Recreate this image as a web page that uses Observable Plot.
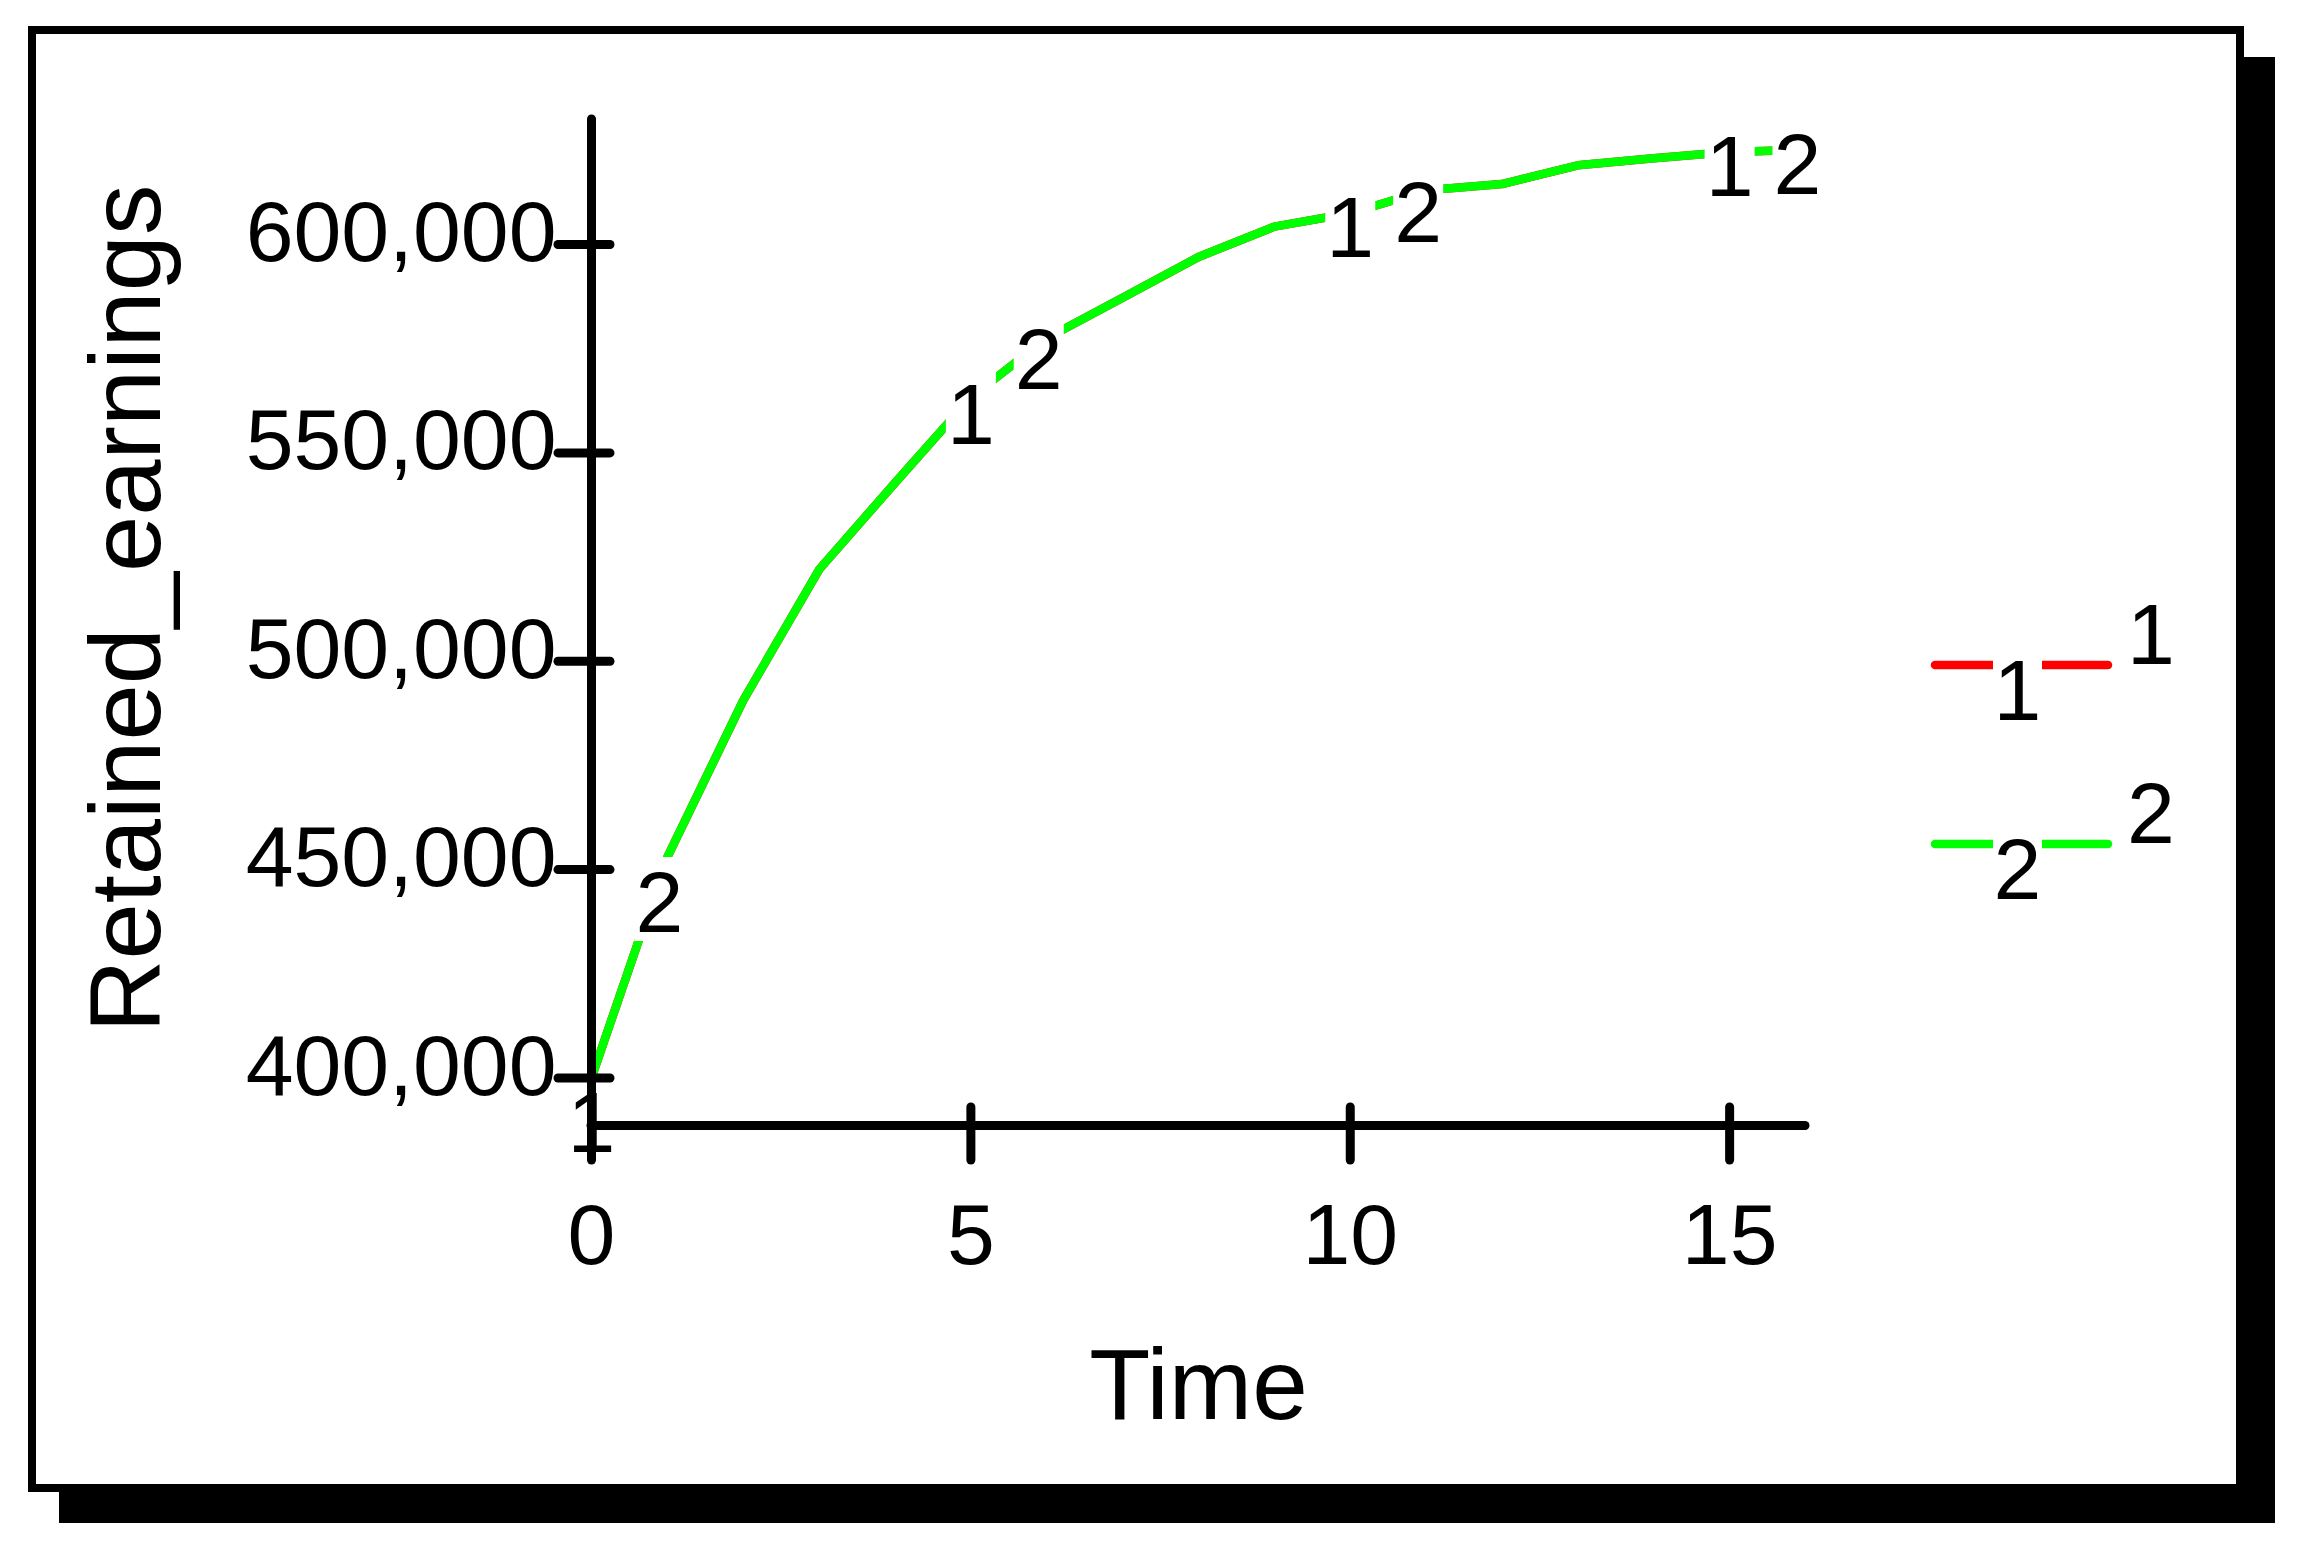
<!DOCTYPE html>
<html><head><meta charset="utf-8">
<script src="https://cdn.jsdelivr.net/npm/d3@7"></script>
<script src="https://cdn.jsdelivr.net/npm/@observablehq/plot@0.6"></script>
<style>
html,body{margin:0;padding:0;background:#fff;width:2304px;height:1548px;overflow:hidden}
#frame{position:absolute;left:28px;top:26px;width:2216px;height:1466px;box-sizing:border-box;border:8.5px solid #000;background:#fff;box-shadow:31px 31px 0 0 #000}
#chart{position:absolute;left:0;top:0}
</style></head><body>
<div id="frame"></div>
<div id="chart"></div>
<script>
// ---- data ----
const time = [0, 1, 2, 3, 4, 5, 6, 7, 8, 9, 10, 11, 12, 13, 14, 15, 16];
const retained1 = [400000, 453000, 490600, 522000, 542800, 563300, 577500, 587200, 597000, 604300, 607500, 613000, 614500, 619000, 620700, 622200, 622700];
const retained2 = [400000, 453000, 490600, 522000, 542800, 563300, 577500, 587200, 597000, 604300, 607500, 613000, 614500, 619000, 620700, 622200, 622700];
const seriesNames = ["1", "2"];
const seriesColors = ["#ff0000", "#00ff00"];
const labelTimes = [[0, 5, 10, 15], [1, 6, 11, 16]];
const xTicks = [0, 5, 10, 15];
const yTicks = [400000, 450000, 500000, 550000, 600000];
const xDomain = [0, 16];
const yDomain = [388600, 630000];
const xTitle = "Time";
const yTitle = "Retained_earnings";

// ---- styles ----
const FONT = "'Liberation Sans', Arial, Helvetica, sans-serif";
const labelDy = [[46, 19, 16, 16], [47, 23, 24, 17]];
const labelDx = [0, -8];
const LW = 8.5, AW = 9;

const seriesValues = [retained1, retained2];
const rows = seriesValues.map((vals, s) => time.map((t, i) => ({t, v: vals[i], s: seriesNames[s]})));
const labels = [];
seriesValues.forEach((vals, s) => labelTimes[s].forEach((t, k) => {
  labels.push({t, v: vals[time.indexOf(t)], name: seriesNames[s], dy: labelDy[s][k], dx: labelDx[s]});
}));

const boxSymbol = {draw(ctx) { ctx.moveTo(-25, -47); ctx.lineTo(25, -47); ctx.lineTo(25, 37); ctx.lineTo(-25, 37); ctx.closePath(); }};

const marks = [];
rows.forEach((r, s) => marks.push(Plot.line(r, {x: "t", y: "v", stroke: seriesColors[s], strokeWidth: LW, strokeLinejoin: "round", strokeLinecap: "round"})));
labels.forEach(l => {
  marks.push(Plot.dot([l], {x: "t", y: "v", dx: l.dx, dy: l.dy, symbol: boxSymbol, r: 10, fill: "white", stroke: null}));
  marks.push(Plot.text([l], {x: "t", y: "v", text: "name", dx: l.dx, dy: l.dy, fontSize: 86, fill: "black", textAnchor: "middle", lineAnchor: "middle"}));
});
const fmt = d3.format(",");
marks.push(
  Plot.axisY({ticks: yTicks, tickSize: 52, dx: 19, tickFormat: () => "", strokeWidth: AW, strokeLinecap: "round", label: null}),
  Plot.axisY({ticks: yTicks, tickSize: 0, tickPadding: 35, dy: -11, fontSize: 86, tickFormat: fmt, fill: "black", label: null}),
  Plot.axisX({ticks: xTicks, tickSize: 53, dy: -18, tickFormat: () => "", strokeWidth: AW, strokeLinecap: "round", label: null}),
  Plot.axisX({ticks: xTicks, tickSize: 0, tickPadding: 77, fontSize: 86, fill: "black", label: null}),
  Plot.ruleX([xDomain[0]], {stroke: "black", strokeWidth: AW, insetBottom: -33, strokeLinecap: "round"}),
  Plot.ruleY([yDomain[0]], {stroke: "black", strokeWidth: AW, strokeLinecap: "round"}),
  Plot.text([yTitle], {text: d => d, frameAnchor: "left", rotate: -90, dx: -464, dy: -14, fontSize: 101, fill: "black", textAnchor: "middle", lineAnchor: "middle"}),
  Plot.text([xTitle], {text: d => d, frameAnchor: "bottom", dy: 222, fontSize: 100, fill: "black", textAnchor: "middle", lineAnchor: "top"})
);

const chart = Plot.plot({
  width: 2304, height: 1548,
  marginLeft: 591, marginRight: 499, marginTop: 119, marginBottom: 423,
  x: {domain: xDomain}, y: {domain: yDomain},
  style: {background: "transparent", fontFamily: FONT, overflow: "visible", color: "black"},
  marks
});

// legend drawn into the same svg
const svg = d3.select(chart);
const lg = svg.append("g").attr("font-family", FONT);
seriesNames.forEach((name, i) => {
  const y = 665 + 179 * i;
  const g = lg.append("g").attr("transform", `translate(0,${y})`);
  g.append("line").attr("x1", 1935).attr("x2", 2108).attr("y1", 0).attr("y2", 0)
    .attr("stroke", seriesColors[i]).attr("stroke-width", LW).attr("stroke-linecap", "round");
  g.append("rect").attr("x", 1993).attr("y", -23).attr("width", 49).attr("height", 84).attr("fill", "white");
  g.append("text").attr("x", 2017.5).attr("y", 55).attr("text-anchor", "middle").attr("font-size", 86).attr("fill", "black").text(name);
  g.append("text").attr("x", 2127).attr("y", -1).attr("text-anchor", "start").attr("font-size", 86).attr("fill", "black").text(name);
});

document.getElementById("chart").appendChild(chart);
</script>
</body></html>
